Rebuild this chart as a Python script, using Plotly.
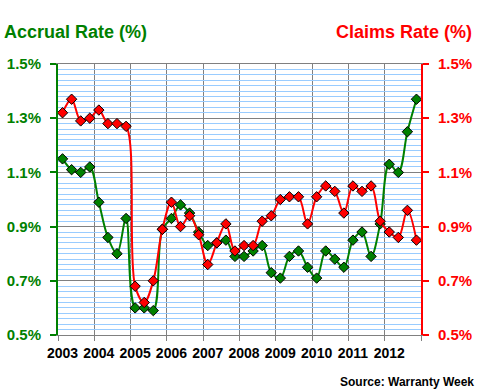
import plotly.graph_objects as go

years = ["2003", "2004", "2005", "2006", "2007", "2008", "2009", "2010", "2011", "2012"]
quarters = list(range(40))

accrual_rate = [1.15, 1.11, 1.10, 1.12, 0.99, 0.86, 0.80, 0.93, 0.60, 0.60, 0.59, 0.89,
                0.93, 0.98, 0.95, 0.88, 0.83, 0.84, 0.85, 0.79, 0.79, 0.81, 0.83, 0.73,
                0.71, 0.79, 0.81, 0.75, 0.71, 0.81, 0.78, 0.75, 0.85, 0.88, 0.79, 0.91,
                1.13, 1.10, 1.25, 1.37]
claims_rate = [1.32, 1.37, 1.29, 1.30, 1.33, 1.28, 1.28, 1.27, 0.68, 0.62, 0.70, 0.89,
               0.99, 0.90, 0.94, 0.87, 0.76, 0.84, 0.91, 0.81, 0.83, 0.83, 0.92, 0.94,
               1.00, 1.01, 1.01, 0.91, 1.01, 1.05, 1.03, 0.95, 1.05, 1.03, 1.05, 0.92,
               0.88, 0.86, 0.96, 0.85]

GREEN = "#008000"
RED = "#ff0000"
FONT = "Liberation Sans"

fig = go.Figure()
fig.add_trace(go.Scatter(
    x=quarters, y=claims_rate, yaxis="y2", mode="lines+markers",
    line=dict(color=RED, width=2, shape="spline", smoothing=1.0),
    marker=dict(symbol="diamond", size=8, color=RED, line=dict(color="black", width=1)),
    showlegend=False, hoverinfo="skip"))
fig.add_trace(go.Scatter(
    x=quarters, y=accrual_rate, yaxis="y", mode="lines+markers",
    line=dict(color=GREEN, width=2, shape="spline", smoothing=1.0),
    marker=dict(symbol="diamond", size=8, color=GREEN, line=dict(color="black", width=1)),
    showlegend=False, hoverinfo="skip"))

fig.update_layout(
    width=480, height=390,
    margin=dict(l=58, r=59, t=64, b=55, autoexpand=False),
    paper_bgcolor="white", plot_bgcolor="white",
    font=dict(family=FONT, size=14, color="black"),
    xaxis=dict(
        range=[-0.5, 39.5],
        tickmode="array", tickvals=[0, 4, 8, 12, 16, 20, 24, 28, 32, 36], ticktext=years,
        showgrid=False, ticks="", ticklabelstandoff=5,
        tickfont=dict(family=FONT, size=14, color="black", weight="bold"),
        showline=True, linecolor="#808080", linewidth=1, mirror=True,
        minor=dict(tickmode="array",
                   tickvals=[-0.5, 3.5, 7.5, 11.5, 15.5, 19.5, 23.5, 27.5, 31.5, 35.5, 39.5],
                   showgrid=True, gridcolor="#808080", gridwidth=1,
                   ticks="outside", ticklen=5, tickcolor="#808080", tickwidth=1),
        zeroline=False, fixedrange=True, automargin=False),
    yaxis=dict(
        range=[0.5, 1.5], tickmode="linear", tick0=0.5, dtick=0.2,
        tickformat=".1f", ticksuffix="%",
        tickfont=dict(family=FONT, size=15, color=GREEN, weight="bold"),
        showgrid=True, gridcolor="#808080", gridwidth=1,
        minor=dict(dtick=0.02, tick0=0.5, showgrid=True, gridcolor="#99ccff", gridwidth=1),
        showline=True, linecolor=GREEN, linewidth=2,
        ticks="outside", ticklen=6, tickwidth=2, tickcolor=GREEN, ticklabelstandoff=6,
        zeroline=False, fixedrange=True, automargin=False),
    yaxis2=dict(
        range=[0.5, 1.5], tickmode="linear", tick0=0.5, dtick=0.2,
        tickformat=".1f", ticksuffix="%",
        tickfont=dict(family=FONT, size=15, color=RED, weight="bold"),
        overlaying="y", side="right", showgrid=False,
        showline=True, linecolor=RED, linewidth=2,
        ticks="outside", ticklen=6, tickwidth=2, tickcolor=RED, ticklabelstandoff=6,
        zeroline=False, fixedrange=True, automargin=False),
    annotations=[
        dict(text="Accrual Rate (%)", xref="paper", yref="paper", x=-56/363, y=1 + 32/271,
             xanchor="left", yanchor="middle", showarrow=False,
             font=dict(family=FONT, size=18, color=GREEN, weight="bold")),
        dict(text="Claims Rate (%)", xref="paper", yref="paper", x=1 + 53/363, y=1 + 32/271,
             xanchor="right", yanchor="middle", showarrow=False,
             font=dict(family=FONT, size=18, color=RED, weight="bold")),
        dict(text="Source: Warranty Week", xref="paper", yref="paper", x=1 + 55/363, y=-47/271,
             xanchor="right", yanchor="middle", showarrow=False,
             font=dict(family=FONT, size=12, color="black", weight="bold")),
    ],
)

fig.write_html("out.html", config={"displayModeBar": False},
               post_script="document.body.style.margin='0';document.body.style.overflow='hidden';")
